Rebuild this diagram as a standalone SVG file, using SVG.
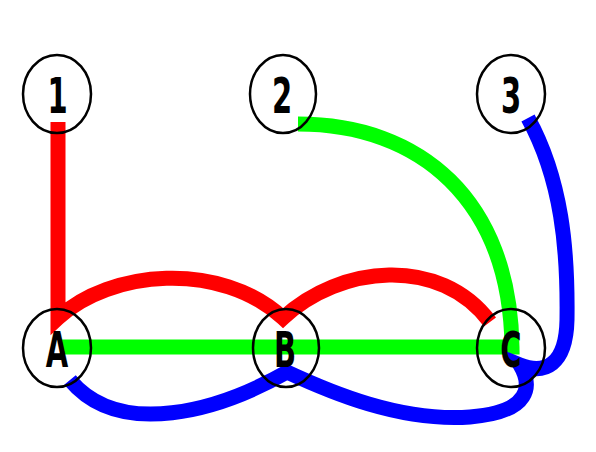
<svg xmlns="http://www.w3.org/2000/svg" width="596" height="452" viewBox="0 0 596 452">
<style>
.edge{fill:none;stroke-width:15;stroke-linejoin:miter;stroke-linecap:butt}
.ring{fill:none;stroke:#000;stroke-width:2.5}
.lbl{font-family:"DejaVu Sans",sans-serif;font-weight:bold;font-size:50px;text-anchor:middle;fill:#000}
</style>
<rect width="596" height="452" fill="#fff"/>
<g id="connectors">
<path class="edge" stroke="#ff0000" d="M58 122 V318 C110 270 220 260 283 318 C340 265 440 255 490 322"/>
<path class="edge" stroke="#00ff00" d="M298 124 C420 124 510 200 512 347 L60 347"/>
<path class="edge" stroke="#0000ff" d="M528 118 C562 180 568 250 567 320 C566 365 545 375 520 365 C532 385 532 412 470 417 C400 422 330 392 287 372 C220 410 120 440 70 380"/>
</g>
<g id="n1"><ellipse class="ring" cx="57" cy="94" rx="34" ry="39"/><text class="lbl" transform="translate(57.5,113) scale(0.58,1)">1</text></g>
<g id="n2"><ellipse class="ring" cx="283" cy="94" rx="33" ry="39"/><text class="lbl" transform="translate(282,113) scale(0.58,1)">2</text></g>
<g id="n3"><ellipse class="ring" cx="511" cy="94" rx="34" ry="39"/><text class="lbl" transform="translate(511,113) scale(0.58,1)">3</text></g>
<g id="nA"><ellipse class="ring" cx="57" cy="348" rx="34" ry="39"/><text class="lbl" transform="translate(57,367) scale(0.58,1)">A</text></g>
<g id="nB"><ellipse class="ring" cx="286" cy="348" rx="33" ry="39"/><text class="lbl" transform="translate(285,367) scale(0.58,1)">B</text></g>
<g id="nC"><ellipse class="ring" cx="511" cy="348" rx="34" ry="39"/><text class="lbl" transform="translate(511,367) scale(0.58,1)">C</text></g>
</svg>
